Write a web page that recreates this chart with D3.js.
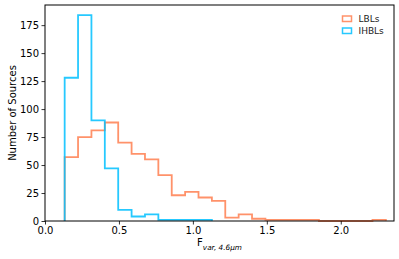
<!DOCTYPE html>
<html><head><meta charset="utf-8">
<script src="https://cdn.jsdelivr.net/npm/d3@7"></script>
<style>body{margin:0;background:#fff}svg{display:block;font-family:"DejaVu Sans",sans-serif}</style>
</head><body><svg id="c" width="399" height="259"></svg>
<script>
const binStart = 0.133;
const binWidth = 0.0905;
const lblCounts = [57,75,81,88,70,60,55,41,23,26,21,18,3,6,2,1,1,1,1,0,0,0,0,1];
const ihblCounts = [128,184,90,47,10,4,6,1,1,1,1];
const seriesNames = ["LBLs","IHBLs"];
const seriesColors = ["#ff7f50","#00bfff"];
const xTicks = [0,0.5,1.0,1.5,2.0];
const yTicks = [0,25,50,75,100,125,150,175];

const svg = d3.select("#c");
const m = {l:45, r:394, t:5, b:221};
const x = d3.scaleLinear().domain([0,2.36]).range([m.l,m.r]);
const y = d3.scaleLinear().domain([0,193]).range([m.b,m.t]);

function stepPts(counts){
  const pts=[[binStart,0]];
  counts.forEach((c,i)=>{pts.push([binStart+i*binWidth,c]);pts.push([binStart+(i+1)*binWidth,c]);});
  pts.push([binStart+counts.length*binWidth,0]);
  return pts;
}
const line = d3.line().x(d=>x(d[0])).y(d=>y(d[1]));
[lblCounts, ihblCounts].forEach((cs,i)=>{
  svg.append("path").attr("d",line(stepPts(cs))).attr("fill","none")
    .attr("stroke",seriesColors[i]).attr("stroke-opacity",0.85).attr("stroke-width",1.8);
});

const xa = svg.append("g").attr("transform",`translate(0,${m.b})`)
  .call(d3.axisBottom(x).tickValues(xTicks).tickFormat(d3.format(".1f")).tickSize(3.5).tickPadding(2.5));
const ya = svg.append("g").attr("transform",`translate(${m.l},0)`)
  .call(d3.axisLeft(y).tickValues(yTicks).tickSize(3.5).tickPadding(2.5));
[xa,ya].forEach(a=>{a.select(".domain").remove();a.selectAll("text").attr("font-size",10).attr("fill","#000").attr("font-family","DejaVu Sans");a.selectAll("line").attr("stroke","#000").attr("stroke-width",0.8);});

svg.append("rect").attr("x",m.l).attr("y",m.t).attr("width",m.r-m.l).attr("height",m.b-m.t)
  .attr("fill","none").attr("stroke","#000").attr("stroke-width",1);

svg.append("text").attr("transform",`translate(12,${(m.t+m.b)/2}) rotate(-90)`)
  .attr("text-anchor","middle").attr("font-size",10).attr("dy","0.35em").text("Number of Sources");
const xl = svg.append("text").attr("x",(m.l+m.r)/2).attr("y",245.5).attr("text-anchor","middle").attr("font-size",10);
xl.append("tspan").text("F");
xl.append("tspan").attr("font-size",7.3).attr("font-style","italic").attr("dy",4.5).text("var, 4.6μm");

seriesNames.forEach((n,i)=>{
  const yy = 16 + i*12;
  svg.append("rect").attr("x",342.5).attr("y",yy).attr("width",9).attr("height",5.5)
    .attr("fill","none").attr("stroke",seriesColors[i]).attr("stroke-opacity",0.85).attr("stroke-width",1.5);
  svg.append("text").attr("x",358.5).attr("y",yy+6).attr("font-size",9).attr("fill","#222").text(n);
});
</script></body></html>
